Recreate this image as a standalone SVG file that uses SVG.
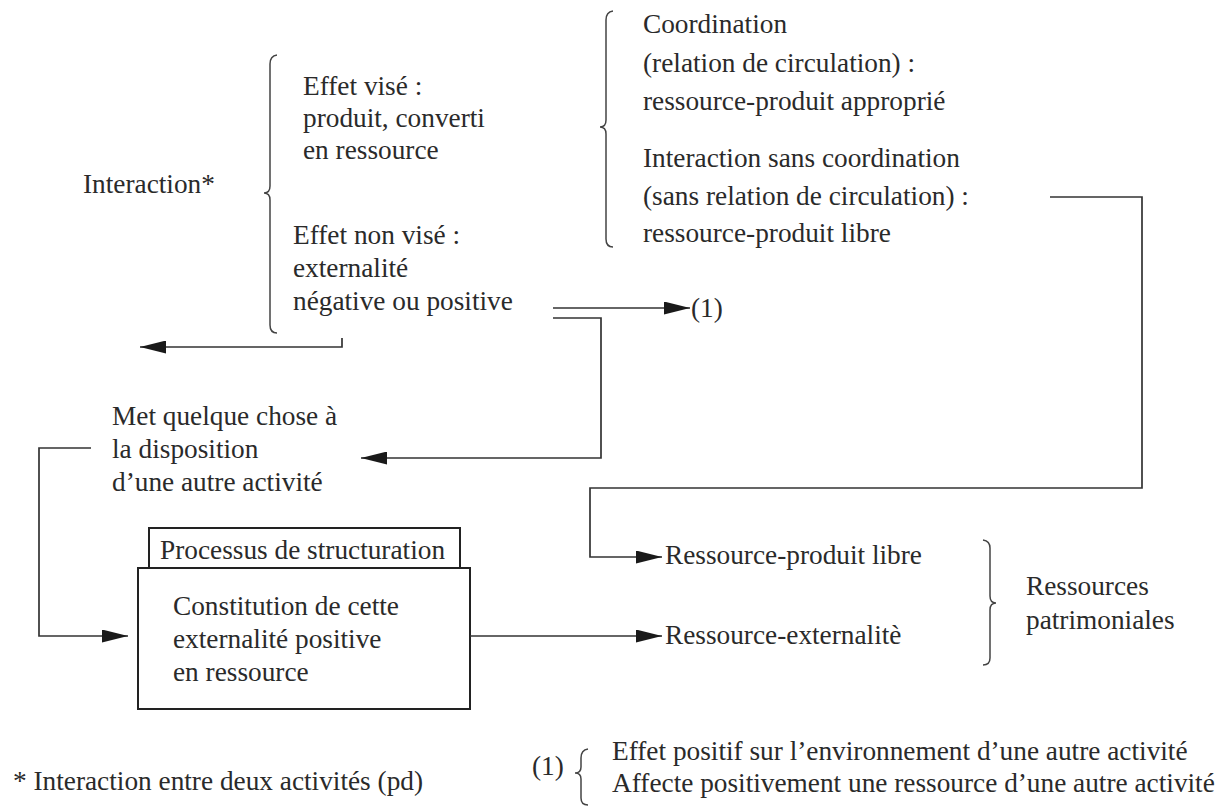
<svg xmlns="http://www.w3.org/2000/svg" width="1228" height="807" viewBox="0 0 1228 807">
<defs>
<marker id="ah" viewBox="0 0 26 13" refX="26" refY="6.5" markerWidth="26" markerHeight="13" markerUnits="userSpaceOnUse" orient="auto">
<path d="M0,0 L26,6.5 L0,13 Z" fill="#1a1a1a"/>
</marker>
</defs>
<style>
text{font-family:'Liberation Serif','DejaVu Serif',serif;font-size:27.3px;fill:#2a2a2a}
.ln{fill:none;stroke:#333;stroke-width:1.7}
.br{fill:none;stroke:#444;stroke-width:1.5}
.bx{fill:#fff;stroke:#222;stroke-width:2}
</style>
<rect width="1228" height="807" fill="#fff"/>

<g id="interaction">
<text x="83" y="193">Interaction*</text>
<path class="br" d="M277,55 Q270,56 270,64 L270,186 Q270,193 264,193 Q270,193 270,200 L270,325 Q270,333 277,333"/>
</g>

<g id="effet-vise">
<text x="303" y="95">Effet visé :</text>
<text x="303" y="127">produit, converti</text>
<text x="303" y="159">en ressource</text>
</g>

<g id="effet-non-vise">
<text x="293" y="244">Effet non visé :</text>
<text x="293" y="277">externalité</text>
<text x="293" y="310">négative ou positive</text>
</g>

<g id="coordination">
<path class="br" d="M613,11 Q606,12 606,20 L606,120 Q606,127 600,127 Q606,127 606,134 L606,239 Q606,247 613,247"/>
<text x="643" y="33">Coordination</text>
<text x="643" y="72">(relation de circulation) :</text>
<text x="643" y="110">ressource-produit approprié</text>
<text x="643" y="167">Interaction sans coordination</text>
<text x="643" y="205">(sans relation de circulation) :</text>
<text x="643" y="242">ressource-produit libre</text>
</g>

<g id="ref1">
<text x="691" y="317">(1)</text>
</g>

<g id="met">
<text x="112" y="425">Met quelque chose à</text>
<text x="112" y="458">la disposition</text>
<text x="112" y="491">d’une autre activité</text>
</g>

<g id="processus">
<rect class="bx" x="149" y="528" width="311" height="40"/>
<text x="160" y="559">Processus de structuration</text>
</g>

<g id="constitution">
<rect class="bx" x="138" y="568" width="332" height="141"/>
<text x="173" y="615">Constitution de cette</text>
<text x="173" y="648">externalité positive</text>
<text x="173" y="681">en ressource</text>
</g>

<g id="ressource-libre">
<text x="665" y="564">Ressource-produit libre</text>
</g>

<g id="ressource-ext">
<text x="665" y="644">Ressource-externalitè</text>
</g>

<g id="patrimoniales">
<path class="br" d="M983,540 Q990,541 990,548 L990,596 Q990,603 996,603 Q990,603 990,610 L990,658 Q990,665 983,665"/>
<text x="1026" y="595">Ressources</text>
<text x="1026" y="629">patrimoniales</text>
</g>

<g id="footnotes">
<text x="13" y="790">* Interaction entre deux activités (pd)</text>
<text x="532" y="775">(1)</text>
<path class="br" d="M588,749 Q581,750 581,758 L581,767 Q581,773 575,773 Q581,773 581,779 L581,798 Q581,805 588,805"/>
<text x="612" y="760">Effet positif sur l’environnement d’une autre activité</text>
<text x="612" y="792">Affecte positivement une ressource d’une autre activité</text>
</g>

<g id="connectors">
<path class="ln" d="M342,338 L342,347 L140,347" marker-end="url(#ah)"/>
<path class="ln" d="M553,308 L690,308" marker-end="url(#ah)"/>
<path class="ln" d="M553,318 L601,318 L601,458 L361,458" marker-end="url(#ah)"/>
<path class="ln" d="M1050,197 L1142,197 L1142,488 L590,488 L590,557 L662,557" marker-end="url(#ah)"/>
<path class="ln" d="M91,448 L39,448 L39,636 L128,636" marker-end="url(#ah)"/>
<path class="ln" d="M470,636 L662,636" marker-end="url(#ah)"/>
</g>
</svg>
